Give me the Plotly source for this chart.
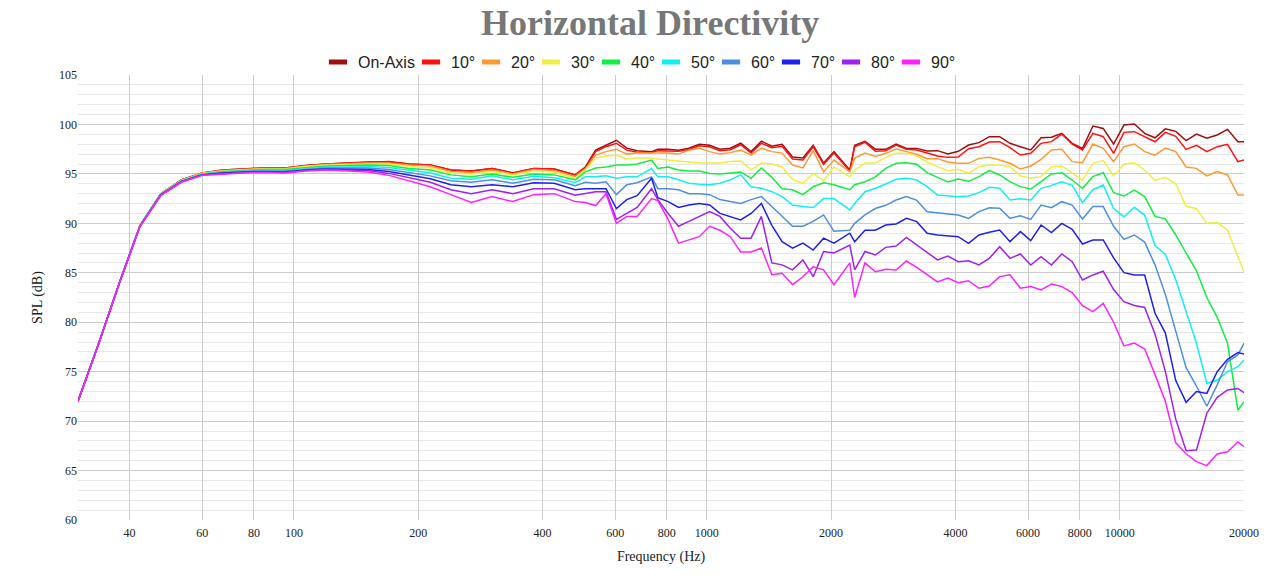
import math
import plotly.graph_objects as go

# ---------------- data ----------------
freq_hz = [30, 33.7, 37.8, 42.4, 47.6, 53.4, 60, 67.3, 75.6, 84.8,
           95.2, 107, 120, 135, 151, 170, 190, 214, 240, 269,
           302, 339, 381, 427, 480, 508, 538, 570, 604, 640,
           678, 735, 761, 806, 854, 905, 959, 1016, 1076, 1140,
           1208, 1280, 1356, 1437, 1522, 1613, 1709, 1810, 1918, 2032,
           2220, 2281, 2416, 2560, 2712, 2874, 3044, 3225, 3417, 3620,
           3836, 4064, 4305, 4561, 4833, 5120, 5424, 5747, 6089, 6451,
           6834, 7241, 7671, 8127, 8611, 9123, 9665, 10240, 10849, 11494,
           12177, 12901, 13669, 14482, 15343, 16255, 17222, 18245, 19330, 20000]

spl_on_axis = [72.0, 77.9, 84.0, 89.8, 93.0, 94.4, 95.1, 95.4, 95.5, 95.6,
               95.6, 95.85, 96.0, 96.1, 96.2, 96.2, 96.0, 95.9, 95.4, 95.3,
               95.55, 95.1, 95.55, 95.5, 94.9, 95.7, 97.4, 97.9, 98.4, 97.6,
               97.35, 97.25, 97.5, 97.5, 97.4, 97.6, 98.0, 97.9, 97.5, 97.6,
               98.1, 97.25, 98.3, 97.8, 98.0, 96.7, 96.6, 97.9, 96.1, 97.25,
               95.4, 97.9, 98.3, 97.5, 97.48, 98.02, 97.58, 97.58, 97.31, 97.35,
               97.01, 97.28, 97.92, 98.16, 98.76, 98.76, 98.09, 97.75, 97.42, 98.66,
               98.7, 99.1, 98.09, 97.58, 99.84, 99.6, 98.02, 99.94, 100.04, 99.1,
               98.65, 99.55, 99.3, 98.36, 99.03, 98.6, 98.93, 99.5, 98.26, 98.26]

spl_10 = [72.0, 77.9, 84.0, 89.8, 93.0, 94.4, 95.1, 95.4, 95.5, 95.6,
          95.6, 95.85, 96.0, 96.1, 96.2, 96.25, 96.0, 95.9, 95.4, 95.3,
          95.55, 95.1, 95.55, 95.5, 94.9, 95.6, 97.25, 97.75, 98.1, 97.4,
          97.2, 97.15, 97.35, 97.35, 97.3, 97.5, 97.85, 97.75, 97.35, 97.45,
          97.95, 97.1, 98.1, 97.65, 97.8, 96.5, 96.4, 97.75, 95.95, 97.1,
          95.3, 97.75, 98.2, 97.3, 97.35, 97.92, 97.48, 97.42, 97.15, 96.81,
          96.67, 96.71, 97.55, 97.75, 98.22, 98.26, 97.65, 96.91, 97.08, 98.09,
          98.26, 99.03, 98.0, 97.42, 99.1, 98.76, 97.08, 99.2, 99.27, 98.76,
          98.25, 99.2, 98.8, 97.48, 97.89, 97.25, 97.75, 97.99, 96.24, 96.41]

spl_20 = [72.0, 77.9, 84.0, 89.8, 93.0, 94.35, 95.1, 95.35, 95.45, 95.55,
          95.55, 95.8, 95.95, 96.05, 96.1, 96.1, 95.9, 95.8, 95.25, 95.15,
          95.4, 95.0, 95.45, 95.35, 94.75, 95.5, 96.9, 97.25, 97.5, 97.0,
          97.1, 97.1, 97.1, 97.1, 97.0, 97.4, 97.6, 97.25, 97.0, 97.15,
          97.4, 96.9, 97.6, 97.25, 97.1, 95.9, 95.6, 97.35, 95.2, 96.4,
          95.2, 96.6, 97.1, 96.75, 97.08, 97.52, 97.25, 96.98, 96.54, 96.54,
          96.2, 96.07, 96.07, 96.57, 96.67, 96.41, 96.07, 95.49, 95.8, 96.47,
          97.42, 97.48, 96.24, 96.13, 98.02, 97.58, 96.24, 97.75, 98.02, 97.25,
          96.9, 97.6, 97.25, 95.7, 95.56, 94.79, 95.23, 94.89, 92.86, 92.86]

spl_30 = [72.0, 77.9, 84.0, 89.8, 92.95, 94.35, 95.05, 95.3, 95.4, 95.5,
          95.5, 95.75, 95.9, 95.95, 96.0, 96.0, 95.75, 95.6, 95.1, 95.0,
          95.25, 94.9, 95.3, 95.2, 94.55, 95.4, 96.6, 96.8, 96.9, 96.5,
          96.6, 96.6, 96.5, 96.4, 96.3, 96.2, 96.1, 96.1, 96.1, 96.25,
          96.3, 95.4, 96.1, 96.0, 95.7, 94.45, 94.05, 95.05, 94.3, 95.7,
          94.7, 95.4, 96.1, 96.1, 96.67, 97.08, 97.08, 96.81, 96.2, 95.73,
          95.33, 95.46, 95.06, 95.73, 95.9, 95.9, 95.73, 94.79, 94.55, 94.72,
          95.73, 95.8, 95.12, 94.38, 96.07, 96.34, 94.8, 96.0, 96.13, 95.39,
          94.35, 94.65, 94.0, 91.73, 91.48, 90.0, 90.07, 89.33, 86.63, 85.11]

spl_40 = [72.0, 77.9, 84.0, 89.8, 92.95, 94.3, 95.0, 95.25, 95.35, 95.45,
          95.45, 95.65, 95.8, 95.85, 95.9, 95.85, 95.55, 95.4, 94.9, 94.7,
          95.0, 94.65, 95.0, 94.9, 94.4, 95.2, 95.6, 95.7, 95.9, 95.9,
          96.0, 96.4, 95.55, 95.7, 95.4, 95.3, 95.3, 95.05, 95.0, 95.1,
          95.2, 94.55, 95.6, 94.65, 93.5, 93.4, 92.9, 93.7, 94.1, 93.9,
          93.4, 93.9, 94.2, 94.7, 95.56, 96.07, 96.13, 95.97, 95.12, 94.65,
          94.18, 94.48, 94.25, 94.72, 95.33, 94.89, 94.21, 93.71, 93.47, 94.21,
          94.99, 95.12, 94.38, 93.54, 94.72, 95.12, 93.1, 92.76, 93.37, 92.7,
          90.7, 90.45, 88.82, 87.0, 85.2, 82.5, 80.5, 77.87, 71.1, 71.97]

spl_50 = [72.0, 77.9, 84.0, 89.75, 92.9, 94.3, 95.0, 95.2, 95.3, 95.4,
          95.35, 95.55, 95.7, 95.7, 95.75, 95.65, 95.35, 95.1, 94.55, 94.45,
          94.8, 94.4, 94.75, 94.6, 94.1, 94.7, 94.7, 94.8, 94.55, 94.7,
          94.7, 95.55, 94.7, 94.7, 94.4, 94.05, 93.95, 93.9, 94.05, 94.4,
          94.9, 93.7, 93.55, 93.2, 92.7, 91.85, 91.7, 91.6, 92.5, 92.5,
          91.35, 92.0, 93.2, 93.55, 93.98, 94.45, 94.55, 94.38, 93.71, 92.86,
          92.8, 92.7, 92.76, 93.1, 93.64, 93.54, 92.36, 92.49, 92.36, 93.54,
          93.84, 94.21, 93.84, 92.09, 93.4, 93.88, 91.5, 90.67, 91.62, 90.84,
          87.75, 86.85, 84.3, 81.2, 77.87, 73.8, 74.16, 75.0, 75.5, 76.18]

spl_60 = [72.0, 77.9, 84.0, 89.75, 92.9, 94.25, 94.95, 95.15, 95.25, 95.3,
          95.3, 95.45, 95.6, 95.6, 95.6, 95.45, 95.1, 94.8, 94.3, 94.15,
          94.4, 94.05, 94.45, 94.4, 93.8, 94.15, 94.05, 94.2, 92.9, 93.9,
          94.1, 94.7, 93.5, 93.5, 93.4, 93.0, 93.0, 92.9, 92.4, 92.2,
          92.0, 92.4, 92.7, 91.7, 90.7, 89.7, 89.7, 90.2, 90.85, 89.2,
          89.3, 90.0, 90.85, 91.5, 91.82, 92.36, 92.7, 92.33, 91.18, 91.08,
          90.94, 90.84, 90.5, 91.18, 91.58, 91.52, 90.5, 90.77, 90.4, 91.85,
          91.58, 92.19, 91.85, 90.44, 91.69, 91.69, 89.7, 88.38, 88.82, 88.1,
          85.8, 82.8, 79.1, 75.4, 73.55, 71.5, 73.66, 76.0, 76.69, 77.87]

spl_70 = [72.0, 77.9, 84.0, 89.7, 92.85, 94.2, 94.9, 95.1, 95.2, 95.25,
          95.2, 95.4, 95.5, 95.5, 95.45, 95.25, 94.85, 94.5, 93.9, 93.7,
          93.9, 93.7, 94.1, 94.05, 93.4, 93.5, 93.5, 93.5, 91.5, 92.4,
          92.8, 94.55, 92.6, 92.2, 91.6, 91.85, 92.0, 91.85, 91.0, 90.7,
          90.35, 91.0, 92.0, 89.8, 88.15, 87.5, 88.0, 87.3, 88.5, 88.0,
          89.0, 88.15, 89.3, 89.3, 89.83, 89.93, 90.5, 90.17, 88.99, 88.82,
          88.72, 88.65, 87.98, 88.82, 89.09, 89.33, 88.15, 89.16, 88.25, 89.83,
          89.06, 90.0, 89.4, 87.91, 88.32, 88.32, 86.5, 85.01, 84.78, 84.78,
          80.9, 78.9, 74.1, 71.9, 73.0, 72.8, 75.0, 76.25, 76.93, 76.79]

spl_80 = [72.0, 77.9, 84.0, 89.7, 92.85, 94.2, 94.9, 95.05, 95.15, 95.2,
          95.15, 95.35, 95.45, 95.4, 95.35, 95.05, 94.6, 94.15, 93.4, 93.0,
          93.4, 93.0, 93.5, 93.5, 92.85, 93.0, 93.2, 93.2, 90.4, 91.0,
          91.6, 93.5, 92.4, 91.0, 89.7, 90.2, 90.7, 91.2, 90.7, 89.5,
          88.5, 88.5, 90.7, 86.0, 85.8, 85.3, 86.3, 84.6, 87.15, 87.0,
          87.8, 85.3, 87.15, 86.8, 87.57, 87.71, 88.58, 87.81, 87.03, 86.3,
          86.7, 86.12, 86.22, 85.79, 86.46, 87.64, 86.46, 86.9, 85.79, 86.63,
          85.79, 86.9, 86.12, 84.27, 84.78, 85.15, 83.3, 82.08, 81.7, 81.5,
          78.8, 75.0, 70.2, 67.0, 67.08, 70.8, 72.41, 73.15, 73.3, 72.88]

spl_90 = [72.0, 77.9, 84.0, 89.7, 92.8, 94.15, 94.85, 95.0, 95.1, 95.15,
          95.1, 95.3, 95.4, 95.3, 95.2, 94.85, 94.3, 93.7, 92.9, 92.1,
          92.7, 92.2, 92.9, 93.0, 92.2, 92.1, 91.8, 93.0, 90.0, 90.7,
          90.7, 92.5, 92.3, 90.4, 88.0, 88.3, 88.65, 89.7, 89.3, 88.65,
          87.1, 87.1, 87.5, 84.8, 84.95, 83.8, 84.6, 85.6, 85.3, 83.8,
          86.0, 82.5, 86.0, 85.1, 85.35, 85.28, 86.19, 85.55, 84.78, 84.07,
          84.47, 84.0, 84.2, 83.43, 83.66, 84.61, 84.8, 83.43, 83.6, 83.26,
          83.87, 83.6, 82.99, 81.67, 81.07, 81.91, 80.0, 77.6, 77.9, 77.3,
          74.7, 72.0, 67.8, 66.7, 65.9, 65.5, 66.68, 66.9, 67.9, 67.42]

series_names = ["On-Axis", "10°", "20°", "30°", "40°", "50°", "60°", "70°", "80°", "90°"]
series_values = [spl_on_axis, spl_10, spl_20, spl_30, spl_40,
                 spl_50, spl_60, spl_70, spl_80, spl_90]
series_colors = ["#a00f0f", "#ff1111", "#ff9a33", "#eeee44", "#11ee44",
                 "#11f0f0", "#4f8fe0", "#2020ee", "#a020f0", "#ff22ff"]
# which legend box each entry sits in (compact spacing like the reference)
legend_ids = ["legend"] + ["legend2"] * 9

tick_vals = [40, 60, 80, 100, 200, 400, 600, 800, 1000, 2000, 4000, 6000, 8000, 10000, 20000]
tick_text = [str(v) for v in tick_vals]

SERIF = "Liberation Serif, Times New Roman, serif"
SANS = "Liberation Sans, Arial, sans-serif"

fig = go.Figure()
for name, values, color in zip(series_names, series_values, series_colors):
    fig.add_trace(go.Scatter(
        x=freq_hz, y=values, mode="lines", name=name, legendgroup=name,
        showlegend=False, line=dict(color=color, width=1.5),
    ))
# legend swatches (short thick bars, like the reference)
for name, color, lg in zip(series_names, series_colors, legend_ids):
    fig.add_trace(go.Scatter(
        x=[None], y=[None], mode="markers", name=name, legendgroup=name,
        showlegend=True, legend=lg,
        marker=dict(symbol="line-ew", size=13, color=color,
                    line=dict(color=color, width=5)),
    ))
# invisible trailing entry so the last label is not clipped by the fixed entry width
fig.add_trace(go.Scatter(
    x=[None], y=[None], mode="markers", name=" ", legend="legend2",
    showlegend=True, hoverinfo="skip",
    marker=dict(symbol="line-ew", size=13, color="rgba(0,0,0,0)",
                line=dict(color="rgba(0,0,0,0)", width=0)),
))

legend_common = dict(orientation="h", xref="paper", xanchor="left",
                     y=1.029, yref="paper", yanchor="middle",
                     font=dict(family=SANS, size=16, color="#222222"),
                     itemwidth=30, traceorder="normal",
                     bgcolor="rgba(0,0,0,0)")

fig.update_layout(
    width=1280, height=580,
    margin=dict(l=78, r=36, t=75, b=60, autoexpand=False),
    paper_bgcolor="white", plot_bgcolor="white",
    title=dict(text="<b>Horizontal Directivity</b>",
               font=dict(family=SERIF, size=36, color="#777777"),
               x=0.508, xref="container", xanchor="center",
               y=0.962, yref="container", yanchor="middle"),
    legend=dict(legend_common, x=(318 - 78) / 1166),
    legend2=dict(legend_common, x=(411 - 78) / 1166, entrywidth=15,
                 entrywidthmode="pixels"),
    xaxis=dict(type="log", range=[math.log10(30), math.log10(20000)],
               tickmode="array", tickvals=tick_vals, ticktext=tick_text,
               showgrid=True, gridcolor="#cccccc", gridwidth=1,
               zeroline=False, showline=False, ticks="",
               ticklabelstandoff=4,
               tickfont=dict(family=SERIF, size=12, color="#222222"),
               title=dict(text="Frequency (Hz)",
                          font=dict(family=SERIF, size=14, color="#222222"),
                          standoff=12)),
    yaxis=dict(range=[60, 105], tick0=60, dtick=5,
               showgrid=True, gridcolor="#cccccc", gridwidth=1,
               zeroline=False, showline=False, ticks="",
               minor=dict(tick0=60, dtick=1, showgrid=True,
                          gridcolor="#e8e8e8", gridwidth=1),
               tickfont=dict(family=SERIF, size=12, color="#222222"),
               title=dict(text="SPL (dB)",
                          font=dict(family=SERIF, size=14, color="#222222"),
                          standoff=13)),
)

fig.write_html("out.html", config={"displayModeBar": False},
               post_script="document.body.style.margin='0';")
